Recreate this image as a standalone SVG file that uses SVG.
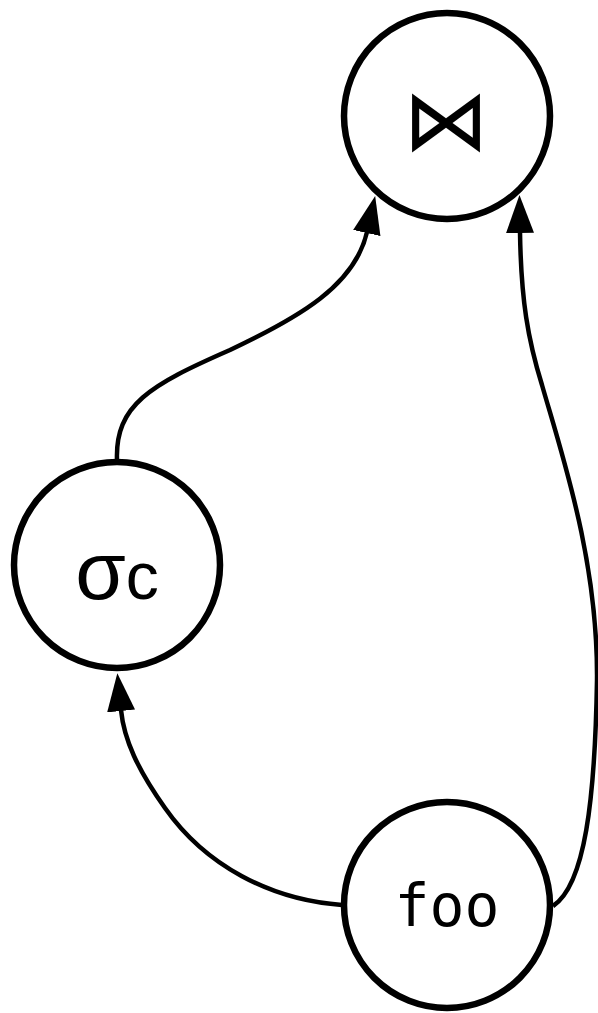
<svg xmlns="http://www.w3.org/2000/svg" width="598" height="1013" viewBox="0 0 598 1013">
<style>
.node circle{fill:#fff;stroke:#000;stroke-width:6.5}
.edge{fill:none;stroke:#000;stroke-width:4.5}
.lbl{font-family:"Liberation Sans",Arial,sans-serif;fill:#000}
.mono{font-family:"DejaVu Sans Mono",monospace;fill:#000}
</style>
<defs>
<marker id="ah" markerUnits="userSpaceOnUse" markerWidth="40" markerHeight="30" refX="1" refY="14" orient="auto">
<path d="M0,0 L38,14 L0,28 z" fill="#000"/>
</marker>
</defs>
<g id="edges">
<path class="edge" d="M117,460 C115,405 150,385 230,350 C300,317 355,285 367,232" marker-end="url(#ah)"/>
<path class="edge" d="M553,906 C585,885 595,800 597,680 C598,560 562,455 542,385 C528,340 521,300 520,232" marker-end="url(#ah)"/>
<path class="edge" d="M342,905 C270,900 205,865 165,808 C138,770 124,740 121,710" marker-end="url(#ah)"/>
</g>
<g id="join" class="node">
<circle cx="447" cy="116" r="103"/>
<text x="446" y="127" text-anchor="middle" dominant-baseline="middle" style="font-family:'DejaVu Sans',sans-serif" font-size="86">⋈</text>
</g>
<g id="select" class="node">
<circle cx="117" cy="565" r="103"/>
<text class="lbl" x="117" y="599" text-anchor="middle"><tspan font-size="82">σ</tspan><tspan font-size="66">c</tspan></text>
</g>
<g id="foo" class="node">
<circle cx="447" cy="905" r="103"/>
<text class="mono" x="447" y="926" text-anchor="middle" font-size="58">foo</text>
</g>
</svg>
